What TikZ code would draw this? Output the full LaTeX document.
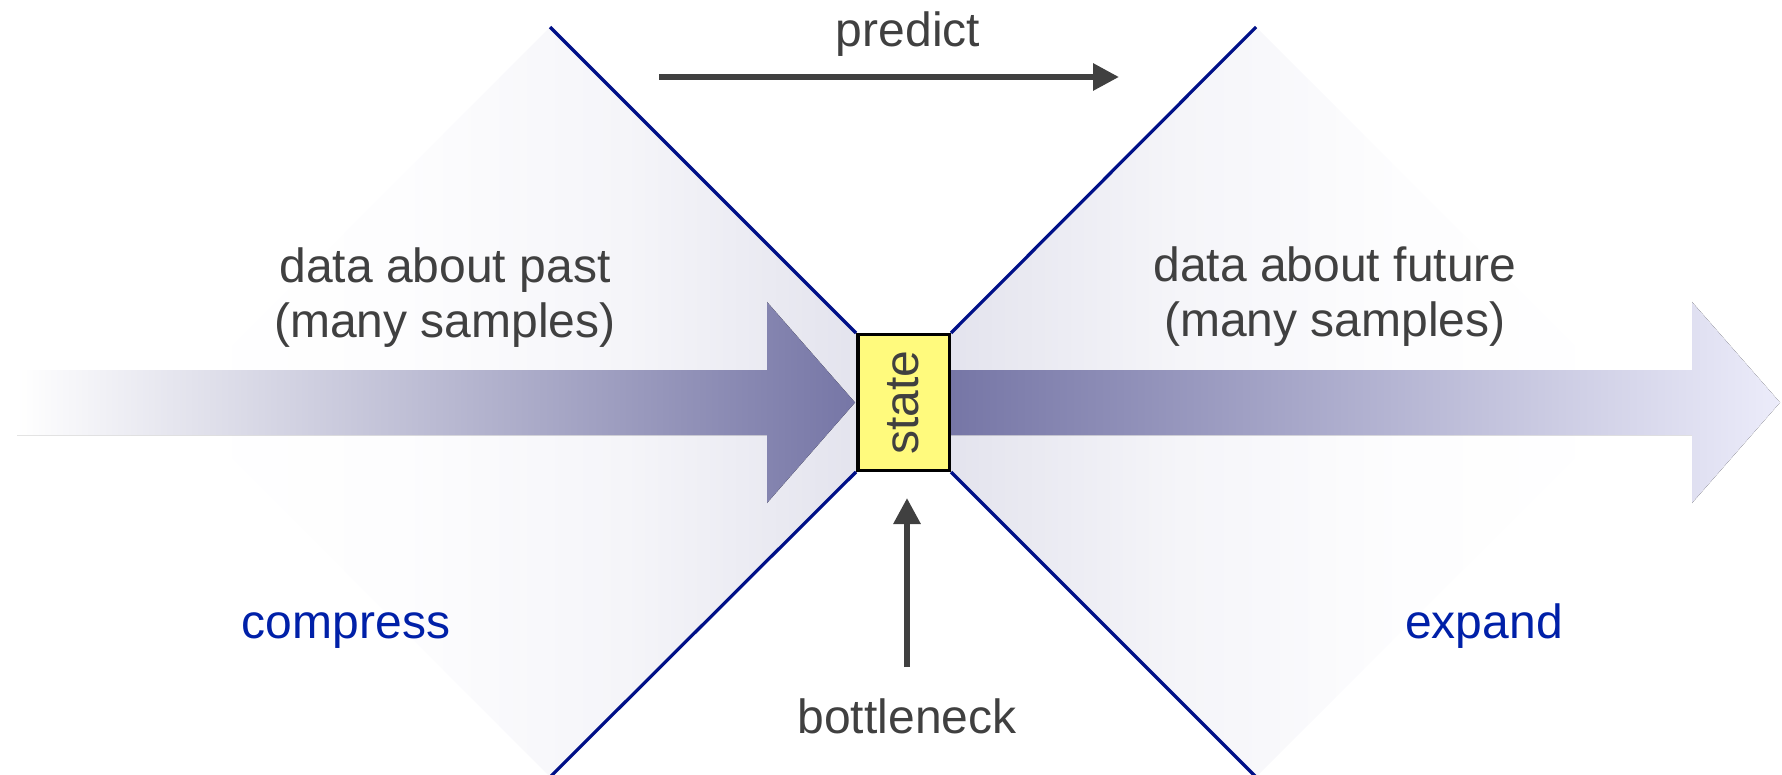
\documentclass[tikz,border=0pt]{standalone}
\usepackage{fontspec}
\setmainfont{Liberation Sans}
\usetikzlibrary{arrows.meta}
\definecolor{txtgray}{RGB}{64,64,64}
\definecolor{txtblue}{RGB}{0,32,168}
\definecolor{linenavy}{RGB}{0,16,136}
\definecolor{arrowdark}{RGB}{118,118,166}
\definecolor{arrowlight}{RGB}{236,236,250}
\definecolor{fanA}{RGB}{253,253,254}
\definecolor{fanB}{RGB}{245,245,249}
\definecolor{fanC}{RGB}{222,222,234}
\definecolor{stateyellow}{RGB}{255,250,125}
\pgfdeclarehorizontalshading{fanL}{100bp}{color(0bp)=(white); color(25bp)=(white); color(40bp)=(fanA); color(55bp)=(fanB); color(75bp)=(fanC); color(100bp)=(fanC)}
\pgfdeclarehorizontalshading{fanR}{100bp}{color(0bp)=(fanC); color(25bp)=(fanC); color(45bp)=(fanB); color(60bp)=(fanA); color(75bp)=(white); color(100bp)=(white)}
\begin{document}
\begin{tikzpicture}[x=1pt,y=-1pt,
  lbl/.style={font=\fontsize{48}{55}\selectfont, text=txtgray, inner sep=0pt},
  bluelbl/.style={font=\fontsize{48}{55}\selectfont, text=txtblue, inner sep=0pt},
  fanedge/.style={draw=linenavy, line width=3.2pt},
  pointer/.style={draw=txtgray, line width=6pt, -{Triangle[length=26pt,width=26pt]}},
  statebox/.style={draw=black, line width=3.5pt, fill=stateyellow, inner sep=0pt,
    minimum width=135.5pt, minimum height=91.5pt,
    font=\fontsize{48}{55}\selectfont, text=txtgray}
]
\useasboundingbox (0,0) rectangle (1782,775);

% shaded fans
\shade[shading=fanL]
  (550,27) -- (925,402) -- (550,777) -- (175,402) -- cycle;
\shade[shading=fanR]
  (1256,27) -- (1631,402) -- (1256,777) -- (881,402) -- cycle;

% big arrows
\fill[left color=white, right color=arrowdark]
  (17,370) -- (767,370) -- (767,302) -- (855,402.5) -- (767,503) -- (767,435) -- (17,435) -- cycle;
\fill[left color=arrowdark, right color=arrowlight]
  (951,370) -- (1692,370) -- (1692,302) -- (1780,402.5) -- (1692,503) -- (1692,435) -- (951,435) -- cycle;

% state box and fan edges
\coordinate (ftl) at (550,27);
\coordinate (ftr) at (1256,27);
\coordinate (fbl) at (550,777);
\coordinate (fbr) at (1256,777);
\node[statebox, rotate=90] (state) at (903.5,402.5) {state};
\draw[fanedge] (ftl) -- (state.north east);
\draw[fanedge] (ftr) -- (state.south east);
\draw[fanedge] (fbl) -- (state.north west);
\draw[fanedge] (fbr) -- (state.south west);

% labels
\node[lbl, anchor=base] (predict) at (908,47) {predict};
\node[lbl, anchor=base] (bneck) at (907,733) {bottleneck};
\node[bluelbl, anchor=base] (compress) at (346,638) {compress};
\node[bluelbl, anchor=base] (expand) at (1484,638) {expand};
\node[lbl, align=center] (past) at (445,297.4) {data about past\\(many samples)};
\node[lbl, align=center] (future) at (1335,297) {data about future\\(many samples)};

% pointers
\coordinate (ps) at (659,77);
\coordinate (pe) at (1119,77);
\draw[pointer] (ps) -- (pe);
\coordinate (bs) at (907,667);
\coordinate (be) at (907,498);
\draw[pointer] (bs) -- (be);
\end{tikzpicture}
\end{document}
